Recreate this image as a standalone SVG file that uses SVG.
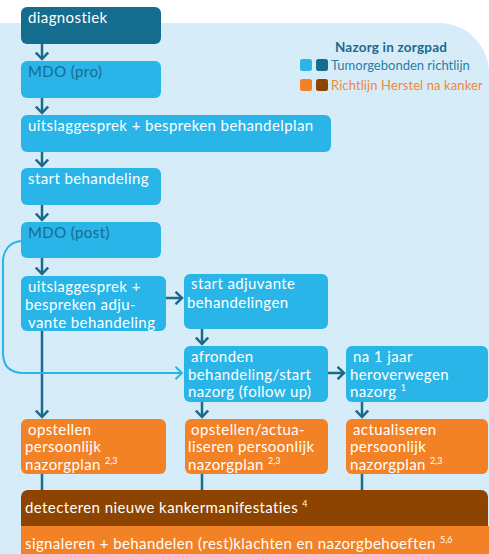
<svg xmlns="http://www.w3.org/2000/svg" width="489" height="554" viewBox="0 0 489 554">
<style>
.t{font-family:Lato,"Open Sans","Liberation Sans",sans-serif;font-size:15px;letter-spacing:0.4px;fill:#ffffff}
.d{fill:#1b6a8c}
.blue{fill:#29b5e8}
.dark{fill:#146c8e}
.or{fill:#f38126}
.br{fill:#8c4400}
.sup{font-size:9px;letter-spacing:0}
.arr{fill:none;stroke:#1b6a8a;stroke-width:2.5}
.lg{font-family:Lato,"Open Sans","Liberation Sans",sans-serif;font-size:13px}
</style>
<defs>
<marker id="ah" viewBox="0 0 9 14" refX="7.5" refY="7" markerWidth="9" markerHeight="14" orient="auto" markerUnits="userSpaceOnUse">
<path d="M1,0.8 L7.5,7 L1,13.2" fill="none" stroke="#1b6a8a" stroke-width="2.5"/>
</marker>
<marker id="ahl" viewBox="0 0 9 14" refX="7.5" refY="7" markerWidth="9" markerHeight="14" orient="auto" markerUnits="userSpaceOnUse">
<path d="M1,0.8 L7.5,7 L1,13.2" fill="none" stroke="#29b5e8" stroke-width="2"/>
</marker>
</defs>
<rect x="0" y="0" width="489" height="554" fill="#ffffff"/>
<path d="M0,23 H439 A50,50 0 0 1 489,73 V554 H0 Z" fill="#d7ecf9"/>

<g id="legend">
<text x="391" y="52" text-anchor="middle" class="lg" style="font-size:13.5px;font-weight:bold;fill:#1b6a8c;letter-spacing:0.2px">Nazorg in zorgpad</text>
<rect x="300" y="59" width="12" height="12" rx="2.5" class="blue"/>
<rect x="316" y="59" width="12" height="12" rx="2.5" class="dark"/>
<text x="331" y="70" class="lg" style="fill:#2a7fa3">Tumorgebonden richtlijn</text>
<rect x="300" y="79" width="12" height="12" rx="2.5" class="or"/>
<rect x="316" y="79" width="12" height="12" rx="2.5" class="br"/>
<text x="331" y="90" class="lg" style="fill:#f0883a;letter-spacing:0.1px">Richtlijn Herstel na kanker</text>
</g>

<g id="connectors">
<line x1="42" y1="44" x2="42" y2="59" class="arr" marker-end="url(#ah)"/>
<line x1="42" y1="98" x2="42" y2="113" class="arr" marker-end="url(#ah)"/>
<line x1="42" y1="152" x2="42" y2="166" class="arr" marker-end="url(#ah)"/>
<line x1="42" y1="205" x2="42" y2="220" class="arr" marker-end="url(#ah)"/>
<line x1="42" y1="258" x2="42" y2="274" class="arr" marker-end="url(#ah)"/>
<line x1="166" y1="298" x2="182" y2="298" class="arr" marker-end="url(#ah)"/>
<line x1="202" y1="329" x2="202" y2="344" class="arr" marker-end="url(#ah)"/>
<line x1="328" y1="373" x2="344" y2="373" class="arr" marker-end="url(#ah)"/>
<line x1="42" y1="331" x2="42" y2="417" class="arr" marker-end="url(#ah)"/>
<line x1="202" y1="402" x2="202" y2="417" class="arr" marker-end="url(#ah)"/>
<line x1="362" y1="402" x2="362" y2="417" class="arr" marker-end="url(#ah)"/>
<line x1="42" y1="474" x2="42" y2="491" class="arr"/>
<line x1="202" y1="474" x2="202" y2="491" class="arr"/>
<line x1="362" y1="474" x2="362" y2="491" class="arr"/>
<path d="M21,241 C10,242 3,250 3,262 V353 C3,366 10,373 24,373 H182" fill="none" stroke="#29b5e8" stroke-width="2" marker-end="url(#ahl)"/>
</g>

<g id="diagnostiek">
<rect x="21" y="7" width="140" height="37" rx="6" class="dark"/>
<text x="28" y="23" class="t">diagnostiek</text>
</g>
<g id="mdo-pro">
<rect x="21" y="61" width="140" height="37" rx="6" class="blue"/>
<text x="28" y="77" class="t d">MDO (pro)</text>
</g>
<g id="uitslaggesprek1">
<rect x="21" y="115" width="310" height="37" rx="6" class="blue"/>
<text x="28" y="131" class="t">uitslaggesprek + bespreken behandelplan</text>
</g>
<g id="start-behandeling">
<rect x="21" y="168" width="140" height="37" rx="6" class="blue"/>
<text x="28" y="184" class="t">start behandeling</text>
</g>
<g id="mdo-post">
<rect x="21" y="222" width="140" height="36" rx="6" class="blue"/>
<text x="28" y="238" class="t d">MDO (post)</text>
</g>
<g id="uitslaggesprek2">
<rect x="21" y="276" width="145" height="55" rx="6" class="blue"/>
<text class="t"><tspan x="28" y="292">uitslaggesprek +</tspan><tspan x="25" y="310">bespreken adju-</tspan><tspan x="28" y="328">vante behandeling</tspan></text>
</g>
<g id="start-adjuvante">
<rect x="184" y="274" width="144" height="55" rx="6" class="blue"/>
<text class="t"><tspan x="191" y="289">start adjuvante</tspan><tspan x="187" y="308">behandelingen</tspan></text>
</g>
<g id="afronden">
<rect x="184" y="346" width="144" height="56" rx="6" class="blue"/>
<text class="t"><tspan x="191" y="362">afronden</tspan><tspan x="188" y="380">behandeling/start</tspan><tspan x="188" y="397">nazorg (follow up)</tspan></text>
</g>
<g id="na-1-jaar">
<rect x="346" y="346" width="142" height="56" rx="6" class="blue"/>
<text class="t"><tspan x="353" y="362">na 1 jaar</tspan><tspan x="350" y="380">heroverwegen</tspan><tspan x="350" y="397">nazorg <tspan class="sup" dy="-6">1</tspan></tspan></text>
</g>
<g id="opstellen">
<rect x="21" y="419" width="145" height="55" rx="6" class="or"/>
<text class="t"><tspan x="28" y="435">opstellen</tspan><tspan x="25" y="452">persoonlijk</tspan><tspan x="25" y="470">nazorgplan <tspan class="sup" dy="-6">2,3</tspan></tspan></text>
</g>
<g id="opstellen-actualiseren">
<rect x="185" y="419" width="143" height="55" rx="6" class="or"/>
<text class="t"><tspan x="191" y="435">opstellen/actua-</tspan><tspan x="188" y="452">liseren persoonlijk</tspan><tspan x="188" y="470">nazorgplan <tspan class="sup" dy="-6">2,3</tspan></tspan></text>
</g>
<g id="actualiseren">
<rect x="346" y="419" width="142" height="55" rx="6" class="or"/>
<text class="t"><tspan x="353" y="435">actualiseren</tspan><tspan x="350" y="452">persoonlijk</tspan><tspan x="350" y="470">nazorgplan <tspan class="sup" dy="-6">2,3</tspan></tspan></text>
</g>
<g id="detecteren">
<path d="M21,526 V497 A7,7 0 0 1 28,490 H481 A7,7 0 0 1 488,497 V526 Z" class="br"/>
<text x="25" y="513" class="t">detecteren nieuwe kankermanifestaties <tspan class="sup" dy="-6">4</tspan></text>
</g>
<g id="signaleren">
<rect x="21" y="526" width="468" height="28" class="or"/>
<text x="25" y="549" class="t">signaleren + behandelen (rest)klachten en nazorgbehoeften <tspan class="sup" dy="-6">5,6</tspan></text>
</g>
</svg>
